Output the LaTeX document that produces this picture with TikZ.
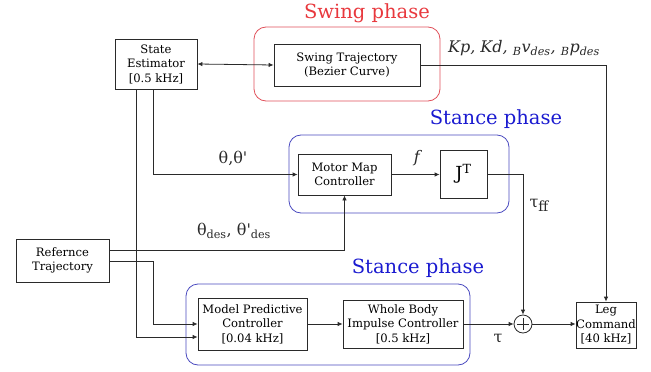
\documentclass[tikz,border=0pt]{standalone}
\usepackage{fontspec}
\setmainfont{DejaVu Serif}[Ligatures=TeXOff]
\usetikzlibrary{arrows.meta,positioning}
\definecolor{ln}{HTML}{2A2A2A}
\definecolor{redf}{HTML}{E0505A}
\definecolor{redt}{HTML}{E8383D}
\definecolor{bluef}{HTML}{4A4ABF}
\definecolor{bluet}{HTML}{1A1AD0}
\tikzset{
  blk/.style={draw=ln, line width=0.8pt, rectangle, align=center, inner sep=0pt, font=\fontsize{11.6}{14.5}\selectfont},
  grp/.style={rounded corners=12pt, line width=0.8pt},
  con/.style={draw=ln, line width=0.8pt, -{Latex[length=5pt,width=4.5pt]}},
  lab/.style={font=\fontsize{16}{18}\selectfont, text=ln},
  ttl/.style={font=\fontsize{19.5}{22}\selectfont}
}
\begin{document}
\begin{tikzpicture}[x=1pt,y=-1pt]
\useasboundingbox (0,0) rectangle (651,372);
% group frames
\draw[grp, draw=redf] (254,27) rectangle (440,101);
\draw[grp, draw=bluef] (289,135) rectangle (509,213);
\draw[grp, draw=bluef] (186,284) rectangle (470,365);
\node[ttl, text=redt] (t1) at (367,13) {Swing phase};
\node[ttl, text=bluet] (t2) at (496,119) {Stance phase};
\node[ttl, text=bluet] (t3) at (418,268) {Stance phase};
% blocks
\node[blk, minimum width=82pt, minimum height=50pt] (se) at (156,64) {State\\Estimator\\{[0.5 kHz]}};
\node[blk, minimum width=146pt, minimum height=42pt] (sw) at (347,65) {Swing Trajectory\\(Bezier Curve)};
\node[blk, minimum width=93pt, minimum height=41pt] (mm) at (344.5,174.5) {Motor Map\\Controller};
\node[blk, minimum width=47pt, minimum height=48pt, font=\fontsize{18}{20}\selectfont] (jt) at (463.5,174) {J$^{\mathrm{T}}$};
\node[blk, minimum width=93pt, minimum height=43pt] (ref) at (62.5,260.5) {Refernce\\Trajectory};
\node[blk, minimum width=109pt, minimum height=52pt] (mpc) at (252.5,324) {Model Predictive\\Controller\\{[0.04 kHz]}};
\node[blk, minimum width=120pt, minimum height=48pt] (wb) at (403,324) {Whole Body\\Impulse Controller\\{[0.5 kHz]}};
\node[blk, minimum width=60pt, minimum height=46pt] (leg) at (606,325) {Leg\\Command\\{[40 kHz]}};
\node[draw=ln, line width=0.8pt, circle, minimum size=18pt, inner sep=0pt] (pl) at (523,324) {};
\draw[ln, line width=0.8pt] ([xshift=-6pt]pl.center) -- ([xshift=6pt]pl.center);
\draw[ln, line width=0.8pt] ([yshift=-6pt]pl.center) -- ([yshift=6pt]pl.center);
% connectors
\draw[con, {Latex[length=5pt,width=4.5pt]}-{Latex[length=5pt,width=4.5pt]}] (se.east) -- (sw.west);
\draw[con] (sw.east) -| (leg.north);
\draw[con] ([xshift=-3pt]se.south) |- (mm.west);
\draw[con] ([xshift=-20pt]se.south) |- ([yshift=-13pt]mpc.west);
\draw[con] ([yshift=10.5pt]ref.east) -| (mm.south);
\draw[con] ([yshift=-0.5pt]ref.east) -| ([xshift=-44pt]mpc.west) -- (mpc.west);
\draw[con] (mm.east) -- (mm.east -| jt.west);
\draw[con] (jt.east) -| (pl.north);
\draw[con] (mpc.east) -- (wb.west);
\draw[con] (wb.east) -- (pl.west);
\draw[con] (pl.east) -- (pl.east -| leg.west);
% labels
\node[lab] (l1) at (233,158) {θ,θ'};
\node[lab] (l2) at (418,158) {\textit{f}};
\node[lab] (l3) at (539,205) {τ\raisebox{-4pt}{\fontsize{14}{14}\selectfont ff}};
\node[lab] (l4) at (234,231) {θ\textsubscript{des}, θ'\textsubscript{des}};
\node[lab] (l5) at (498,339) {τ};
\node[lab, font=\fontsize{16}{18}\selectfont\itshape] (l6) at (524,48) {Kp, Kd, \textsubscript{B}v\textsubscript{des}, \textsubscript{B}p\textsubscript{des}};
\end{tikzpicture}
\end{document}
